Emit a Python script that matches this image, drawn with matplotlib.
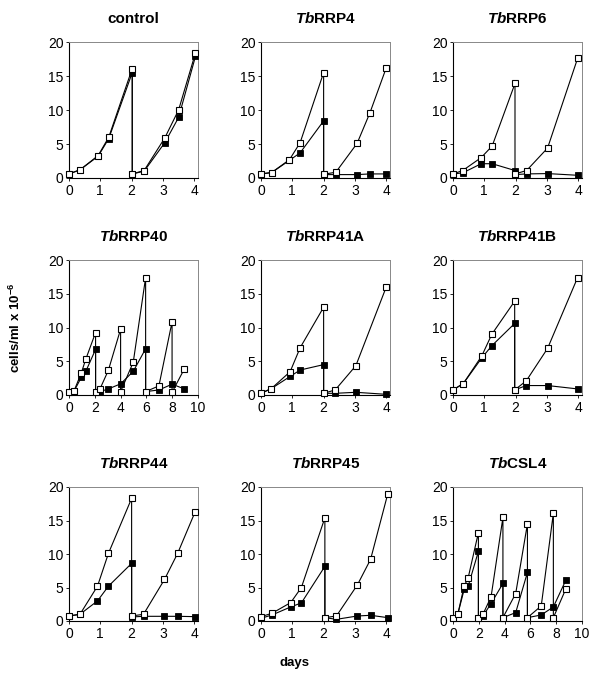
import matplotlib
matplotlib.use("Agg")
import matplotlib.pyplot as plt

plt.rcParams['font.family'] = ['Liberation Sans', 'DejaVu Sans']
plt.rcParams['mathtext.fontset'] = 'custom'
plt.rcParams['mathtext.it'] = 'Liberation Sans:italic:bold'
plt.rcParams['mathtext.rm'] = 'Liberation Sans:bold'
plt.rcParams['mathtext.bf'] = 'Liberation Sans:bold'

# ---------------- data (days, cells/ml x 10^-6) ----------------
# uninduced (open squares) / induced (filled squares); repeated x = dilution
control_x_open = [0, 0.35, 0.93, 1.27, 2.02, 2.02, 2.4, 3.06, 3.5, 4.04]
control_y_open = [0.6, 1.2, 3.3, 6.0, 16.1, 0.6, 1.1, 5.9, 10.0, 18.4]
control_x_fill = [0, 0.35, 0.93, 1.27, 2.02, 2.02, 2.4, 3.06, 3.5, 4.04]
control_y_fill = [0.6, 1.2, 3.2, 5.8, 15.5, 0.6, 1.0, 5.2, 8.9, 17.9]

rrp4_x_open = [0, 0.34, 0.91, 1.25, 2.0, 2.0, 2.39, 3.07, 3.48, 4.0]
rrp4_y_open = [0.6, 0.8, 2.7, 5.2, 15.5, 0.55, 0.85, 5.1, 9.6, 16.2]
rrp4_x_fill = [0, 0.34, 0.91, 1.25, 2.0, 2.0, 2.39, 3.07, 3.48, 4.0]
rrp4_y_fill = [0.6, 0.8, 2.6, 3.7, 8.4, 0.5, 0.5, 0.5, 0.6, 0.6]

rrp6_x_open = [0, 0.31, 0.9, 1.25, 1.98, 1.98, 2.35, 3.02, 3.98]
rrp6_y_open = [0.6, 1.1, 3.0, 4.7, 13.9, 0.6, 1.1, 4.4, 17.6]
rrp6_x_fill = [0, 0.31, 0.9, 1.25, 1.98, 1.98, 2.35, 3.02, 3.98]
rrp6_y_fill = [0.6, 0.75, 2.1, 2.1, 1.1, 0.5, 0.6, 0.65, 0.4]

rrp40_x_open = [0, 0.4, 0.95, 1.3, 2.06, 2.06, 2.4, 3.05, 4.0, 4.0, 4.98,
                5.94, 5.94, 6.97, 7.99, 7.99, 8.95]
rrp40_y_open = [0.5, 0.65, 3.25, 5.3, 9.25, 0.5, 0.9, 3.65, 9.75, 0.5, 4.85,
                17.4, 0.5, 1.35, 10.85, 0.4, 3.9]
rrp40_x_fill = [0, 0.4, 0.95, 1.3, 2.06, 2.06, 2.4, 3.05, 4.0, 4.98, 5.94,
                5.94, 6.97, 7.99, 8.95]
rrp40_y_fill = [0.4, 0.6, 2.6, 3.5, 6.75, 0.5, 0.5, 0.9, 1.65, 3.5, 6.85,
                0.5, 0.75, 1.6, 0.9]

rrp41a_x_open = [0, 0.33, 0.93, 1.25, 2.0, 2.0, 2.37, 3.03, 4.0]
rrp41a_y_open = [0.25, 0.95, 3.45, 7.0, 13.0, 0.25, 0.75, 4.35, 16.0]
rrp41a_x_fill = [0, 0.33, 0.93, 1.25, 2.0, 2.0, 2.37, 3.03, 4.0]
rrp41a_y_fill = [0.25, 0.95, 2.75, 3.7, 4.5, 0.25, 0.25, 0.4, 0.1]

rrp41b_x_open = [0, 0.33, 0.92, 1.24, 1.97, 1.97, 2.34, 3.02, 3.98]
rrp41b_y_open = [0.75, 1.7, 5.8, 9.0, 13.9, 0.75, 2.1, 6.9, 17.4]
rrp41b_x_fill = [0, 0.33, 0.92, 1.24, 1.97, 1.97, 2.34, 3.02, 3.98]
rrp41b_y_fill = [0.75, 1.7, 5.5, 7.3, 10.6, 0.75, 1.4, 1.4, 0.9]

rrp44_x_open = [0, 0.35, 0.91, 1.26, 2.0, 2.0, 2.38, 3.05, 3.47, 4.02]
rrp44_y_open = [0.75, 1.0, 5.2, 10.1, 18.3, 0.75, 1.0, 6.2, 10.1, 16.2]
rrp44_x_fill = [0, 0.35, 0.91, 1.26, 2.0, 2.0, 2.38, 3.05, 3.47, 4.02]
rrp44_y_fill = [0.75, 1.0, 3.0, 5.2, 8.6, 0.6, 0.7, 0.7, 0.7, 0.65]

rrp45_x_open = [0, 0.35, 0.95, 1.29, 2.04, 2.04, 2.41, 3.08, 3.5, 4.05]
rrp45_y_open = [0.65, 1.15, 2.75, 5.0, 15.4, 0.5, 0.75, 5.4, 9.2, 19.0]
rrp45_x_fill = [0, 0.35, 0.95, 1.29, 2.04, 2.04, 2.41, 3.08, 3.5, 4.05]
rrp45_y_fill = [0.4, 0.9, 2.1, 2.7, 8.15, 0.5, 0.25, 0.75, 0.85, 0.5]

csl4_x_open = [0, 0.37, 0.87, 1.17, 1.97, 1.97, 2.32, 2.95, 3.87, 3.87, 4.86,
               5.77, 5.77, 6.84, 7.78, 7.78, 8.75]
csl4_y_open = [0.5, 1.0, 5.25, 6.4, 13.2, 0.5, 1.0, 3.6, 15.45, 0.5, 4.1,
               14.5, 0.5, 2.25, 16.1, 0.5, 4.8]
csl4_x_fill = [0, 0.37, 0.87, 1.17, 1.97, 1.97, 2.32, 2.95, 3.87, 3.87, 4.86,
               5.77, 5.77, 6.84, 7.78, 8.75]
csl4_y_fill = [0.5, 1.0, 4.75, 5.15, 10.4, 0.5, 0.75, 2.6, 5.6, 0.5, 1.25,
               7.25, 0.5, 0.9, 2.1, 6.1]

titles = ["control", r"$\mathit{Tb}$RRP4", r"$\mathit{Tb}$RRP6",
          r"$\mathit{Tb}$RRP40", r"$\mathit{Tb}$RRP41A", r"$\mathit{Tb}$RRP41B",
          r"$\mathit{Tb}$RRP44", r"$\mathit{Tb}$RRP45", r"$\mathit{Tb}$CSL4"]
panels = [
    (control_x_open, control_y_open, control_x_fill, control_y_fill),
    (rrp4_x_open, rrp4_y_open, rrp4_x_fill, rrp4_y_fill),
    (rrp6_x_open, rrp6_y_open, rrp6_x_fill, rrp6_y_fill),
    (rrp40_x_open, rrp40_y_open, rrp40_x_fill, rrp40_y_fill),
    (rrp41a_x_open, rrp41a_y_open, rrp41a_x_fill, rrp41a_y_fill),
    (rrp41b_x_open, rrp41b_y_open, rrp41b_x_fill, rrp41b_y_fill),
    (rrp44_x_open, rrp44_y_open, rrp44_x_fill, rrp44_y_fill),
    (rrp45_x_open, rrp45_y_open, rrp45_x_fill, rrp45_y_fill),
    (csl4_x_open, csl4_y_open, csl4_x_fill, csl4_y_fill),
]
long_panels = {3, 8}  # 10-day panels
y_ticks = [0, 5, 10, 15, 20]

# ---------------- layout ----------------
W, H = 589, 673
fig = plt.figure(figsize=(W / 100, H / 100), dpi=100)
col_left = [69, 261, 453]
col_w = 129
row_top = [42, 260, 487]
row_h = [136, 135, 134]

for i, (xo, yo, xf, yf) in enumerate(panels):
    r, c = divmod(i, 3)
    left = col_left[c] / W
    bottom = 1 - (row_top[r] + row_h[r]) / H
    ax = fig.add_axes([left, bottom, col_w / W, row_h[r] / H])
    ax.plot(xf, yf, color='black', lw=0.8, marker='s', ms=4.5,
            mfc='black', mec='black', mew=0.6, clip_on=False, zorder=3)
    ax.plot(xo, yo, color='black', lw=0.8, marker='s', ms=4.5,
            mfc='white', mec='black', mew=0.8, clip_on=False, zorder=4)
    if i in long_panels:
        ax.set_xlim(0, 10)
        ax.set_xticks([0, 2, 4, 6, 8, 10])
    else:
        ax.set_xlim(0, 4.12)
        ax.set_xticks([0, 1, 2, 3, 4])
    ax.set_ylim(0, 20)
    ax.set_yticks(y_ticks)
    ax.tick_params(labelsize=10, length=2, width=0.6, pad=2)
    for s in ['left', 'bottom']:
        ax.spines[s].set_linewidth(0.8)
        ax.spines[s].set_color('black')
    for s in ['top', 'right']:
        ax.spines[s].set_linewidth(0.7)
        ax.spines[s].set_color('#888888')
    ax.set_title(titles[i], fontsize=11, fontweight='bold', pad=14)

fig.text(15 / W, 1 - 328 / H, r"cells/ml x 10$^{\mathrm{-6}}$", rotation=90,
         ha='center', va='center', fontsize=9.5, fontweight='bold')
fig.text(295 / W, 1 - 663 / H, "days", ha='center', va='center',
         fontsize=9.5, fontweight='bold')

fig.savefig("out.png", dpi=100)
